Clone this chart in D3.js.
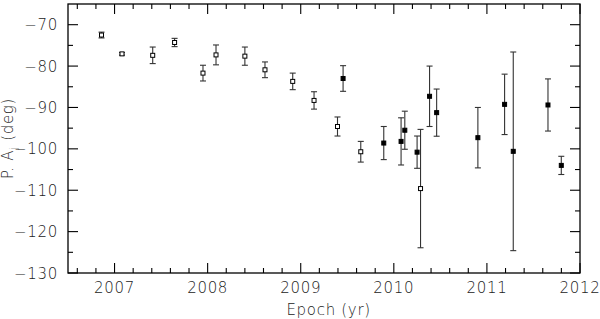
<!DOCTYPE html>
<meta charset="utf-8">
<script src="https://d3js.org/d3.v7.min.js"></script>
<style>
  body { margin: 0; background: #fff; }
  text { font-family: "DejaVu Sans", "Liberation Sans", sans-serif; font-weight: 200; fill: #222; }
</style>
<div id="chart"></div>
<script>

    // open squares
    var openEpoch = [2006.86, 2007.08, 2007.41, 2007.645, 2007.95, 2008.09, 2008.40, 2008.616, 2008.914, 2009.143, 2009.395, 2009.645, 2010.287];
    var openPA    = [-72.5, -77.05, -77.4, -74.3, -81.7, -77.3, -77.6, -80.9, -83.7, -88.3, -94.6, -100.7, -109.6];
    var openErr   = [0.7, 0.3, 2.0, 1.0, 1.9, 2.4, 2.2, 1.9, 2.0, 2.1, 2.3, 2.5, 14.3];

    // filled squares
    var fillEpoch = [2009.455, 2009.892, 2010.078, 2010.118, 2010.25, 2010.384, 2010.46, 2010.903, 2011.19, 2011.283, 2011.656, 2011.799];
    var fillPA    = [-83.0, -98.6, -98.2, -95.5, -100.8, -87.3, -91.25, -97.3, -89.25, -100.6, -89.4, -104.0];
    var fillErr   = [3.1, 4.0, 5.7, 4.6, 3.9, 7.3, 5.7, 7.3, 7.3, 24.0, 6.3, 2.2];

    var xTicks = [2007, 2008, 2009, 2010, 2011, 2012];
    var yTicks = [-70, -80, -90, -100, -110, -120, -130];

    var margin = { top: 4, right: 20, bottom: 46, left: 68 },
        width = 600 - margin.left - margin.right,
        height = 319 - margin.top - margin.bottom;

    var svg = d3.select("#chart")
        .append("svg")
        .attr("width", 600)
        .attr("height", 319)
        .append("g")
        .attr("transform", "translate(" + margin.left + "," + margin.top + ")");

    var x = d3.scaleLinear().domain([2006.5, 2012]).range([0, width]);
    var y = d3.scaleLinear().domain([-130, -65]).range([height, 0]);

    var xMinor = d3.range(2006.6, 2012, 0.2).filter(function (v) { return Math.abs(v - Math.round(v)) > 0.01; });
    var yMinor = d3.range(-125, -65, 10);

    // frame
    svg.append("rect")
        .attr("width", width).attr("height", height)
        .attr("fill", "none").attr("stroke", "#000").attr("stroke-width", 1.3);

    // ticks on all four sides, pointing in
    function tickLines(vals, len, horizontal) {
        vals.forEach(function (v) {
            if (horizontal) {
                svg.append("line").attr("x1", x(v)).attr("x2", x(v)).attr("y1", height).attr("y2", height - len);
                svg.append("line").attr("x1", x(v)).attr("x2", x(v)).attr("y1", 0).attr("y2", len);
            } else {
                svg.append("line").attr("y1", y(v)).attr("y2", y(v)).attr("x1", 0).attr("x2", len);
                svg.append("line").attr("y1", y(v)).attr("y2", y(v)).attr("x1", width).attr("x2", width - len);
            }
        });
    }
    tickLines(xTicks, 10, true);
    tickLines(xMinor, 5, true);
    tickLines(yTicks, 10, false);
    tickLines(yMinor, 5, false);
    svg.selectAll("line").attr("stroke", "#000").attr("stroke-width", 1.1);

    // tick labels
    svg.selectAll(".xl").data(xTicks).enter().append("text")
        .attr("x", function (d) { return x(d); })
        .attr("y", height + 20)
        .attr("text-anchor", "middle")
        .attr("font-size", 15)
        .attr("letter-spacing", 0.7)
        .text(function (d) { return d; });

    svg.selectAll(".yl").data(yTicks).enter().append("text")
        .attr("x", -10)
        .attr("y", function (d) { return y(d) + 5.5; })
        .attr("text-anchor", "end")
        .attr("font-size", 15)
        .attr("letter-spacing", 0.7)
        .text(function (d) { return "\u2212" + Math.abs(d); });

    // axis titles
    svg.append("text")
        .attr("x", x(2009.3))
        .attr("y", height + 42)
        .attr("text-anchor", "middle")
        .attr("font-size", 15)
        .attr("letter-spacing", 0.7)
        .text("Epoch (yr)");

    var yl = svg.append("text")
        .attr("transform", "translate(-55," + y(-97.5) + ") rotate(-90)")
        .attr("text-anchor", "middle")
        .attr("font-size", 15)
        .attr("letter-spacing", 0.7);
    yl.append("tspan").text("P. A");
    yl.append("tspan").attr("font-size", 10).attr("dy", 4).text("j");
    yl.append("tspan").attr("dy", -4).text(" (deg)");

    // error bars + markers
    function drawSeries(ep, pa, er, filled) {
        var data = ep.map(function (d, i) { return { t: d, v: pa[i], e: er[i] }; });
        var g = svg.append("g");
        var bars = g.selectAll("g").data(data).enter().append("g")
            .attr("stroke", "#333").attr("stroke-width", 1.1);
        bars.append("line")
            .attr("x1", function (d) { return x(d.t); }).attr("x2", function (d) { return x(d.t); })
            .attr("y1", function (d) { return y(d.v + d.e); }).attr("y2", function (d) { return y(d.v - d.e); });
        bars.append("line")
            .attr("x1", function (d) { return x(d.t) - 3; }).attr("x2", function (d) { return x(d.t) + 3; })
            .attr("y1", function (d) { return y(d.v + d.e); }).attr("y2", function (d) { return y(d.v + d.e); });
        bars.append("line")
            .attr("x1", function (d) { return x(d.t) - 3; }).attr("x2", function (d) { return x(d.t) + 3; })
            .attr("y1", function (d) { return y(d.v - d.e); }).attr("y2", function (d) { return y(d.v - d.e); });
        bars.append("rect")
            .attr("x", function (d) { return x(d.t) - 2; })
            .attr("y", function (d) { return y(d.v) - 2; })
            .attr("width", 4).attr("height", 4)
            .attr("fill", filled ? "#000" : "#fff")
            .attr("stroke", "#000").attr("stroke-width", 1);
    }
    drawSeries(openEpoch, openPA, openErr, false);
    drawSeries(fillEpoch, fillPA, fillErr, true);
</script>
